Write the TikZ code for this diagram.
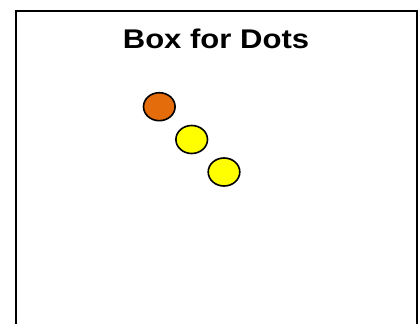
\documentclass[tikz,border=0pt]{standalone}
\usepackage{fontspec}
\setmainfont{Liberation Sans}
\definecolor{dotorange}{RGB}{228,108,10}
\definecolor{dotyellow}{RGB}{255,255,0}
\begin{document}
\begin{tikzpicture}[x=1pt,y=-1pt,
  dotline/.style={draw=black,line width=1.6pt},
  boxline/.style={draw=black,line width=2pt}]
\useasboundingbox (0,0) rectangle (419,323);
\coordinate (bl) at (16,325);
\coordinate (tl) at (16,11);
\coordinate (tr) at (417,11);
\coordinate (br) at (417,325);
\draw[boxline] (bl) -- (tl) -- (tr) -- (br);
\node[font=\bfseries\fontsize{27}{32}\selectfont,anchor=base,inner sep=0pt] (title) at (216,48.5) {\scalebox{1.15}[1]{Box for Dots}};
\draw[dotline,fill=dotorange] (159.3,106.7) ellipse [x radius=15.8pt, y radius=14pt];
\draw[dotline,fill=dotyellow] (191.7,139.5) ellipse [x radius=15.8pt, y radius=14pt];
\draw[dotline,fill=dotyellow] (224,172) ellipse [x radius=15.8pt, y radius=14pt];
\end{tikzpicture}
\end{document}
